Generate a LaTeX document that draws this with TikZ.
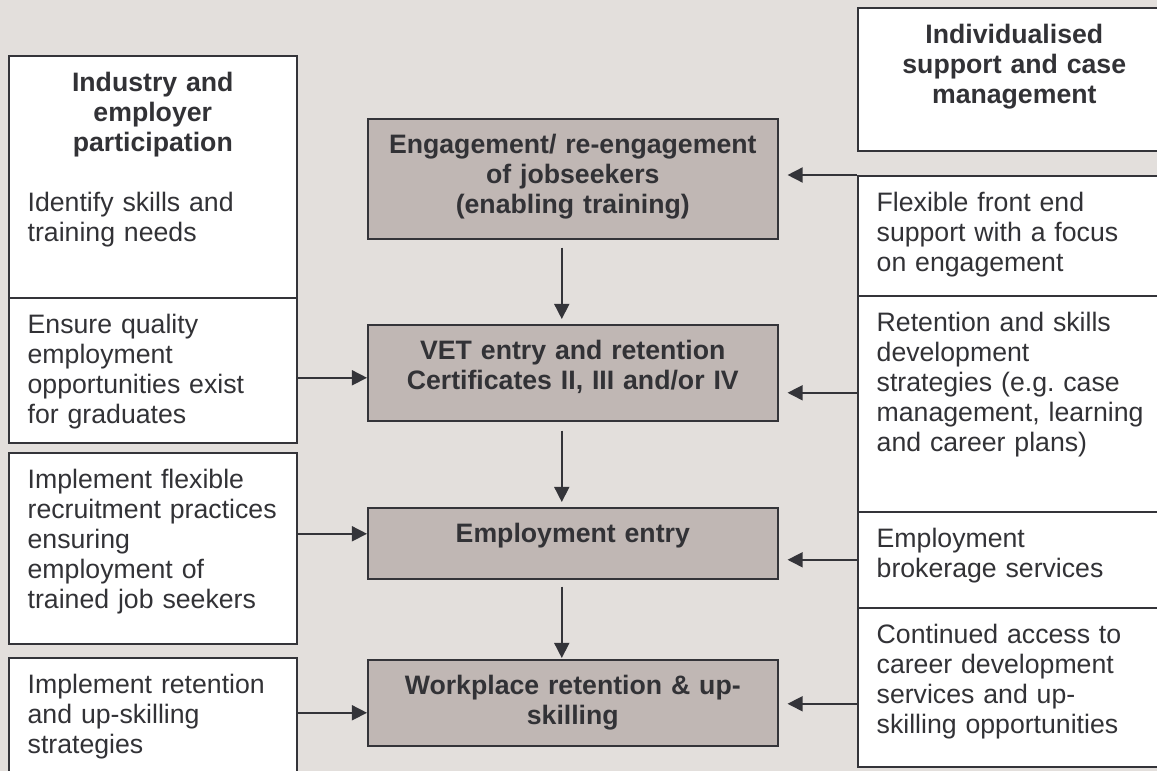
\documentclass[tikz,border=0pt]{standalone}
\usepackage{fontspec}
\setmainfont{Liberation Sans}
\usetikzlibrary{arrows.meta}
\usetikzlibrary{calc}

\definecolor{bggrey}{RGB}{227,223,220}
\definecolor{boxgrey}{RGB}{192,183,180}
\definecolor{edgegrey}{RGB}{52,52,57}
\definecolor{textgrey}{RGB}{50,50,54}

\begin{document}
\begin{tikzpicture}[x=0.45pt, y=-0.45pt,
    every node/.style={font=\fontsize{12}{13.5}\selectfont, text=textgrey},
    sidebox/.style={draw=edgegrey, line width=0.7pt, fill=white, anchor=north west,
        inner xsep=8.5pt, inner ysep=0pt, text height=16.2pt, align=left},
    leftbox/.style={sidebox, text width=112.6pt},
    rightbox/.style={sidebox, text width=123.85pt},
    stage/.style={draw=edgegrey, line width=0.7pt, fill=boxgrey, anchor=north west,
        text width=176.5pt, inner xsep=4pt, inner ysep=0pt, text height=15.8pt,
        align=center, font=\fontsize{12}{13.5}\selectfont\bfseries},
    arr/.style={-{Triangle[length=6.8pt,width=6.8pt]}, draw=edgegrey, line width=0.7pt}]

    \useasboundingbox (0,0) rectangle (1157,771);
    \fill[bggrey] (0,0) rectangle (1157,771);

    % Employer side
    \node[leftbox, text depth=92.7pt] (industry) at (8,55)
        {{\centering\bfseries Industry and\\employer\\participation\par}\vskip13.5pt
         Identify skills and\\training needs};
    \node[leftbox, text depth=49.05pt] (quality) at (8,297)
        {Ensure quality\\employment\\opportunities exist\\for graduates};
    \node[leftbox, text depth=69.75pt] (recruit) at (8,452)
        {Implement flexible\\recruitment practices\\ensuring\\employment of\\trained job seekers};
    \node[leftbox, text depth=43.65pt] (upskill) at (8,657)
        {Implement retention\\and up-skilling\\strategies};

    % Support side
    \node[rightbox, align=center, font=\fontsize{12}{13.5}\selectfont\bfseries,
        text depth=48.15pt] (casemgmt) at (857,7)
        {Individualised\\support and case\\management};
    \node[rightbox, text depth=37.8pt] (frontend) at (857,175)
        {Flexible front end\\support with a focus\\on engagement};
    \node[rightbox, text depth=81pt] (retain) at (857,295)
        {Retention and skills\\development\\strategies (e.g.\ case\\management, learning\\and career plans)};
    \node[rightbox, text depth=27pt] (broker) at (857,511)
        {Employment\\brokerage services};
    \node[rightbox, text depth=55.35pt] (career) at (857,607)
        {Continued access to\\career development\\services and up-\\skilling opportunities};

    % Pathway stages
    \node[stage, text depth=38.25pt] (engage) at (367,118)
        {Engagement/ re-engagement\\of jobseekers\\(enabling training)};
    \node[stage, text depth=27.45pt] (vet) at (367,324)
        {VET entry and retention\\Certificates II, III and/or IV};
    \node[stage, text depth=16.2pt] (empentry) at (367,507) {Employment entry};
    \node[stage, text depth=22.95pt] (workret) at (367,659)
        {Workplace retention \& up-\\skilling};

    % Down the pathway
    \draw[arr] ($(engage.south)+(-11,8)$) -- ($(vet.north)+(-11,-5)$);
    \draw[arr] ($(vet.south)+(-11,9)$) -- ($(empentry.north)+(-11,-5)$);
    \draw[arr] ($(empentry.south)+(-11,7)$) -- ($(workret.north)+(-11,-1)$);

    % Employer inputs
    \draw[arr] ($(quality.east)+(0,7.5)$) -- ($(quality.east -| vet.west)+(0,7.5)$);
    \draw[arr] ($(recruit.east)+(0,-14.5)$) -- ($(recruit.east -| empentry.west)+(0,-14.5)$);
    \draw[arr] ($(upskill.east)+(0,-11.5)$) -- ($(upskill.east -| workret.west)+(0,-11.5)$);

    % Support inputs
    \draw[arr] (frontend.north west) -- ($(frontend.north west -| engage.east)+(9,0)$);
    \draw[arr] ($(retain.west)+(0,-11)$) -- ($(retain.west -| vet.east)+(9,-11)$);
    \draw[arr] (broker.west) -- ($(broker.west -| empentry.east)+(9,0)$);
    \draw[arr] ($(career.west)+(0,16.5)$) -- ($(career.west -| workret.east)+(9,16.5)$);

\end{tikzpicture}
\end{document}
